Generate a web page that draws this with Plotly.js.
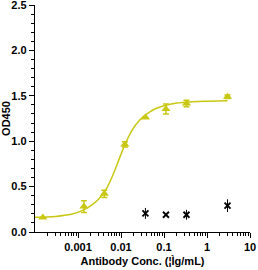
<!DOCTYPE html>
<html><head><meta charset="utf-8">
<script src="https://cdn.plot.ly/plotly-3.0.1.min.js"></script>
<style>html,body{margin:0;padding:0;background:#fff}#chart{width:258px;height:270px}</style>
</head><body><div id="chart"></div>
<script>
// Antibody series (triangles)
const concA = [0.000152, 0.00137, 0.0041, 0.0123, 0.037, 0.111, 0.333, 3];
const odA   = [0.16, 0.28, 0.42, 0.965, 1.26, 1.355, 1.415, 1.49];
const errA  = [0.0, 0.065, 0.04, 0.03, 0.0, 0.055, 0.035, 0.02];
// Control series (x marks)
const concB = [0.037, 0.111, 0.333, 3];
const odB   = [0.205, 0.19, 0.19, 0.29];
const errB  = [0.06, 0.0, 0.055, 0.07];
// Fitted curve
const fitX = [0.0001, 0.0003, 0.0007, 0.0012, 0.002, 0.003, 0.0045, 0.0065, 0.009, 0.0123, 0.018, 0.027, 0.04, 0.065, 0.11, 0.2, 0.4, 1, 3];
const fitY = [0.163, 0.172, 0.195, 0.232, 0.29, 0.36, 0.47, 0.63, 0.80, 0.96, 1.12, 1.23, 1.30, 1.36, 1.395, 1.42, 1.433, 1.44, 1.445];
const xTickVals = [0.001, 0.01, 0.1, 1, 10];
const xTickText = ['0.001', '0.01', '0.1', '1', '10'];
const yTickVals = [0, 0.5, 1, 1.5, 2, 2.5];
const yTickText = ['0.0', '0.5', '1.0', '1.5', '2.0', '2.5'];

const col = 'rgb(200,200,20)';
const font = {family: 'Liberation Sans, Arial, sans-serif', size: 11, color: '#000', weight: 'bold'};

const traces = [
  {x: fitX, y: fitY, mode: 'lines', line: {color: col, width: 1.5, shape: 'spline'}, hoverinfo: 'skip'},
  {x: concA, y: odA, mode: 'markers', marker: {symbol: 'triangle-up', size: 8, color: col},
   error_y: {type: 'data', array: errA, visible: true, color: col, thickness: 1.5, width: 3}},
  {x: concB, y: odB, mode: 'markers', marker: {symbol: 'x-thin-open', size: 6, color: '#000', line: {color: '#000', width: 1.8}},
   error_y: {type: 'data', array: errB, visible: true, color: '#000', thickness: 1, width: 0}}
];

const layout = {
  width: 258, height: 270,
  margin: {l: 35, r: 8, t: 5, b: 38},
  paper_bgcolor: '#fff', plot_bgcolor: '#fff',
  showlegend: false,
  font: font,
  xaxis: {
    type: 'log', range: [-4, 1],
    tickvals: xTickVals, ticktext: xTickText,
    ticks: 'outside', ticklen: 5, tickwidth: 1, tickcolor: '#000',
    minor: {ticks: 'outside', ticklen: 3, tickcolor: '#000', tickwidth: 1, tickvals: [0.0002,0.0003,0.0004,0.0005,0.0006,0.0007,0.0008,0.0009,0.002,0.003,0.004,0.005,0.006,0.007,0.008,0.009,0.02,0.03,0.04,0.05,0.06,0.07,0.08,0.09,0.2,0.3,0.4,0.5,0.6,0.7,0.8,0.9,2,3,4,5,6,7,8,9]},
    showline: true, linecolor: '#000', linewidth: 1.2, showgrid: false, zeroline: false,
    tickfont: font, automargin: false, ticklabeloverflow: 'allow',
    title: {text: 'Antibody Conc. (¦Ìg/mL)', font: font, standoff: 4}
  },
  yaxis: {
    range: [0, 2.5], tickvals: yTickVals, ticktext: yTickText,
    ticks: 'outside', ticklen: 5, tickwidth: 1, tickcolor: '#000',
    minor: {ticks: 'outside', ticklen: 3, dtick: 0.1, tickcolor: '#000', tickwidth: 1},
    showline: true, linecolor: '#000', linewidth: 1.2, showgrid: false, zeroline: false,
    tickfont: font, automargin: false, ticklabeloverflow: 'allow',
    title: {text: 'OD450', font: font, standoff: 4}
  }
};
Plotly.newPlot('chart', traces, layout, {displayModeBar: false, staticPlot: true});
</script></body></html>
